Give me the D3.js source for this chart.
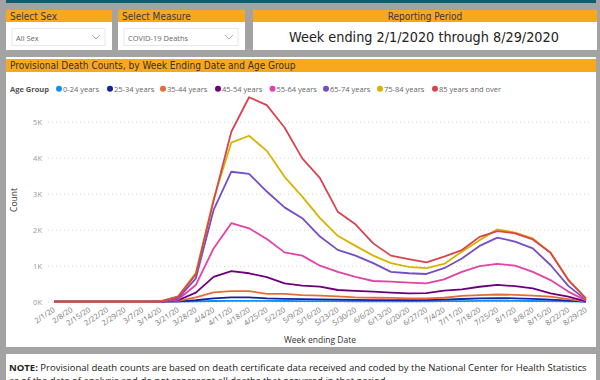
<!DOCTYPE html>
<html>
<head>
<meta charset="utf-8">
<script src="https://cdn.jsdelivr.net/npm/d3@7"></script>
<style>
  body { margin: 0; background: #a3a3a3; }
  svg { display: block; }
  .tick line { stroke: #d4d4d4; stroke-dasharray: 1 3; }
  .domain { display: none; }
</style>
</head>
<body>
<svg id="chart" width="600" height="380"></svg>
<script>
// week ending dates on the x axis
const weeks = ["2/1/20", "2/8/20", "2/15/20", "2/22/20", "2/29/20", "3/7/20", "3/14/20",
  "3/21/20", "3/28/20", "4/4/20", "4/11/20", "4/18/20", "4/25/20", "5/2/20", "5/9/20",
  "5/16/20", "5/23/20", "5/30/20", "6/6/20", "6/13/20", "6/20/20", "6/27/20", "7/4/20",
  "7/11/20", "7/18/20", "7/25/20", "8/1/20", "8/8/20", "8/15/20", "8/22/20", "8/29/20"];

const ageGroups = ["0-24 years", "25-34 years", "35-44 years", "45-54 years",
  "55-64 years", "65-74 years", "75-84 years", "85 years and over"];
const colors = ["#118DFF", "#12239E", "#E66C37", "#6B007B", "#E044A7", "#744EC2", "#D9B300", "#D64550"];

// death counts per week
const age0to24 = [0,0,0,0,0,0,0,3,10,20,25,25,22,20,18,15,14,12,12,11,11,12,15,18,22,25,24,20,15,8,1];
const age25to34 = [0,0,0,0,0,0,1,10,40,95,120,120,90,80,70,65,55,50,45,42,40,42,55,75,90,100,95,80,60,30,3];
const age35to44 = [0,0,0,0,0,0,2,20,120,260,295,295,215,215,180,170,150,120,110,105,95,95,110,160,180,200,190,170,140,70,5];
const age45to54 = [0,0,0,0,0,0,3,40,250,690,850,790,680,510,445,420,325,300,280,250,230,240,305,345,415,465,430,370,230,140,10];
const age55to64 = [0,0,0,0,0,0,5,60,465,1480,2180,2040,1740,1370,1280,1000,830,690,575,555,530,510,620,830,990,1050,1000,830,600,280,30];
const age65to74 = [0,0,0,0,0,0,5,90,650,2550,3610,3550,3060,2620,2320,1810,1440,1280,1070,830,790,770,930,1200,1550,1780,1670,1480,1020,440,50];
const age75to84 = [0,0,0,0,0,0,10,150,800,2850,4420,4610,4190,3470,2920,2320,1830,1550,1280,1070,970,930,1050,1390,1710,2010,1920,1760,1360,620,80];
const age85plus = [0,0,0,0,0,0,10,140,760,2800,4720,5680,5460,4840,3980,3430,2500,2150,1620,1280,1185,1090,1250,1435,1800,1960,1900,1730,1360,600,90];
const series = [age0to24, age25to34, age35to44, age45to54, age55to64, age65to74, age75to84, age85plus];

const yTicks = [0, 1000, 2000, 3000, 4000, 5000];

const svg = d3.select("#chart");
const dinFont = "'DejaVu Sans Condensed', 'Liberation Sans Narrow', sans-serif";
const uiFont = "'Open Sans', 'Noto Sans', sans-serif";
const orange = "#f8a81c";

// shrink a text element so it fits in a given width
const fitWidth = (sel, maxW) => {
  const w = sel.node().getComputedTextLength();
  if (w > maxW) sel.attr("font-size", parseFloat(sel.attr("font-size")) * maxW / w);
};

// top teal strip
svg.append("rect").attr("x", 6).attr("y", 0).attr("width", 590).attr("height", 3).attr("fill", "#0e5e6f");

// slicer panels
const slicers = [
  { x: 6, w: 106, title: "Select Sex", value: "All Sex" },
  { x: 118, w: 127, title: "Select Measure", value: "COVID-19 Deaths" },
];
slicers.forEach((s) => {
  svg.append("rect").attr("x", s.x).attr("y", 10).attr("width", s.w).attr("height", 40).attr("fill", "#fff");
  svg.append("rect").attr("x", s.x).attr("y", 10).attr("width", s.w).attr("height", 12).attr("fill", orange);
  svg.append("text").attr("x", s.x + 4).attr("y", 20).attr("font-family", dinFont)
    .attr("font-size", 10).attr("fill", "#3a3a3a").text(s.title);
  svg.append("rect").attr("x", s.x + 6).attr("y", 28.5).attr("width", s.w - 13).attr("height", 17)
    .attr("fill", "#fff").attr("stroke", "#e8e8e8");
  svg.append("text").attr("x", s.x + 10).attr("y", 41).attr("font-family", uiFont)
    .attr("font-size", 7.5).attr("fill", "#666").text(s.value);
  const cx = s.x + s.w - 16;
  svg.append("path").attr("d", `M${cx - 4},35 L${cx},39 L${cx + 4},35`)
    .attr("fill", "none").attr("stroke", "#999").attr("stroke-width", 0.8);
});

// reporting period panel
svg.append("rect").attr("x", 253).attr("y", 10).attr("width", 344).attr("height", 40).attr("fill", "#fff");
svg.append("rect").attr("x", 253).attr("y", 10).attr("width", 344).attr("height", 12).attr("fill", orange);
svg.append("text").attr("x", 425).attr("y", 20).attr("text-anchor", "middle").attr("font-family", dinFont)
  .attr("font-size", 10).attr("fill", "#3a3a3a").text("Reporting Period");
svg.append("text").attr("x", 424).attr("y", 42).attr("text-anchor", "middle").attr("font-family", dinFont)
  .attr("font-size", 14.3).attr("fill", "#222").text("Week ending 2/1/2020 through 8/29/2020");

// chart panel
svg.append("rect").attr("x", 6).attr("y", 57).attr("width", 590).attr("height", 290).attr("fill", "#fff");
svg.append("rect").attr("x", 6).attr("y", 59).attr("width", 590).attr("height", 13).attr("fill", orange);
svg.append("text").attr("x", 10).attr("y", 69).attr("font-family", dinFont)
  .attr("font-size", 10).attr("fill", "#333").text("Provisional Death Counts, by Week Ending Date and Age Group");

// legend
const legend = svg.append("g").attr("font-family", uiFont).attr("font-size", 7.5);
legend.append("text").attr("x", 10).attr("y", 91.5).attr("font-weight", "bold").attr("fill", "#555").text("Age Group");
const legendX = [59, 110, 163, 218, 272.5, 326, 380, 435];
ageGroups.forEach((g, i) => {
  legend.append("circle").attr("cx", legendX[i]).attr("cy", 88.7).attr("r", 3).attr("fill", colors[i]);
  legend.append("text").attr("x", legendX[i] + 4).attr("y", 91.5).attr("fill", "#666").text(g);
});

// scales
const x = d3.scalePoint().domain(weeks).range([54, 586]);
const y = d3.scaleLinear().domain([0, 5000]).range([301.7, 121.7]);

// y axis with dotted gridlines
svg.append("g")
  .attr("transform", "translate(48,0)")
  .call(d3.axisLeft(y).tickValues(yTicks).tickSize(-542).tickPadding(6)
    .tickFormat((d) => `${d / 1000}K`))
  .call((g) => g.selectAll("text").attr("font-family", uiFont).attr("font-size", 7.5).attr("fill", "#999"));

svg.append("text").attr("transform", "translate(17,200) rotate(-90)").attr("text-anchor", "middle")
  .attr("font-family", uiFont).attr("font-size", 8.5).attr("fill", "#333").text("Count");

// x axis labels, rotated
const xAxis = svg.append("g")
  .attr("transform", "translate(0,302)")
  .call(d3.axisBottom(x).tickSize(0).tickPadding(0));
xAxis.selectAll("text")
  .attr("font-family", uiFont).attr("font-size", 7.5).attr("fill", "#777")
  .attr("text-anchor", "end").attr("dy", 0)
  .attr("transform", "translate(1,9) rotate(-34)");

svg.append("text").attr("x", 320).attr("y", 343).attr("text-anchor", "middle")
  .attr("font-family", uiFont).attr("font-size", 8.5).attr("fill", "#333").text("Week ending Date");

// lines
const line = d3.line()
  .x((d, i) => x(weeks[i]))
  .y((d) => y(d));

svg.append("g")
  .selectAll("path")
  .data(series)
  .enter()
  .append("path")
  .attr("d", line)
  .attr("fill", "none")
  .attr("stroke", (d, i) => colors[i])
  .attr("stroke-width", 1.8)
  .attr("stroke-linejoin", "round");

// note panel
svg.append("rect").attr("x", 6).attr("y", 354).attr("width", 590).attr("height", 30).attr("fill", "#fff");
const note = svg.append("text").attr("x", 9).attr("y", 371).attr("font-family", uiFont)
  .attr("font-size", 10.5).attr("fill", "#222");
note.append("tspan").attr("font-weight", "bold").text("NOTE:");
note.append("tspan").text(" Provisional death counts are based on death certificate data received and coded by the National Center for Health Statistics");
fitWidth(note, 578);
const note2 = svg.append("text").attr("x", 9).attr("y", 383.5).attr("font-family", uiFont)
  .attr("font-size", note.attr("font-size")).attr("fill", "#222")
  .text("as of the date of analysis and do not represent all deaths that occurred in that period.");
</script>
</body>
</html>
